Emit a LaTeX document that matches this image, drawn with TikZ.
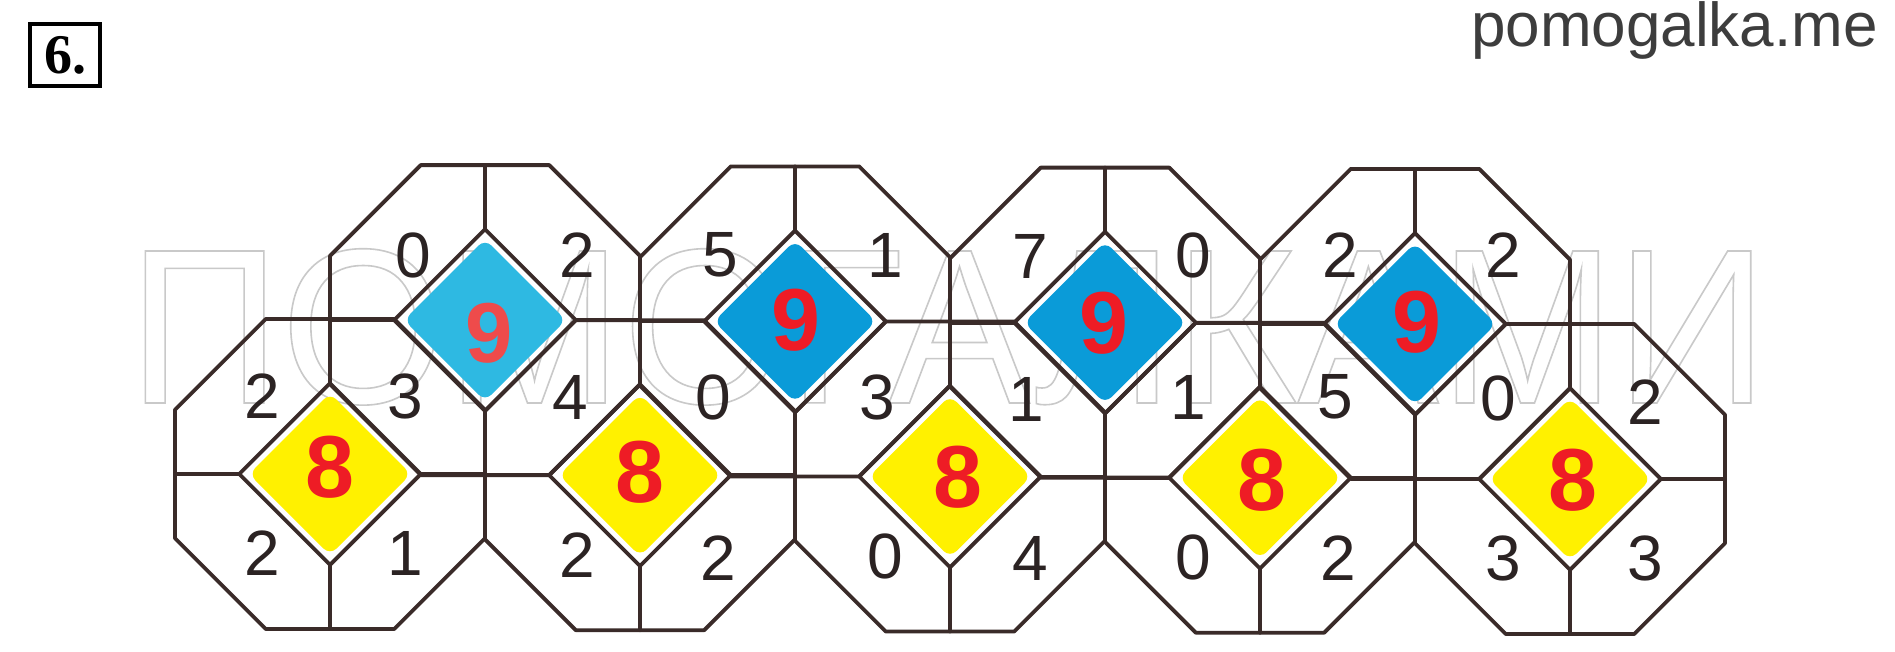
\documentclass[tikz,border=0pt]{standalone}
\usepackage{fontspec}
\setmainfont{Liberation Sans}
\newfontfamily\wmfont[FakeStretch=0.96]{Liberation Sans}
\newfontfamily\hdfont{Liberation Serif}
\definecolor{lncol}{HTML}{3A2B29}
\definecolor{digcol}{HTML}{2B2323}
\definecolor{redcol}{HTML}{EE1C25}
\definecolor{salmoncol}{HTML}{EE4B4B}
\definecolor{bluecol}{HTML}{0A9BD8}
\definecolor{cyancol}{HTML}{2EB9E2}
\definecolor{yelcol}{HTML}{FFF100}
\definecolor{sitegray}{HTML}{3D3D3D}
\definecolor{wmgray}{HTML}{C9C9C9}
\def\octR{155}
\def\octA{64.2}
\def\diaD{90.8}
\def\fillD{81}
\tikzset{
  grid line/.style={draw=lncol, line width=3.8pt, line join=round, line cap=round},
  small digit/.style={inner sep=0pt, text=digcol, font=\fontsize{64}{66}\selectfont},
  big digit/.style={inner sep=0pt, text=redcol, font=\fontsize{88}{90}\selectfont\bfseries},
  octcell/.pic={
    \path[grid line] (-\octA,-\octR) -- (\octA,-\octR) -- (\octR,-\octA) -- (\octR,\octA)
      -- (\octA,\octR) -- (-\octA,\octR) -- (-\octR,\octA) -- (-\octR,-\octA) -- cycle;
    \path[grid line] (0,-\octR) -- (0,-\diaD) (0,\diaD) -- (0,\octR)
      (-\octR,0) -- (-\diaD,0) (\diaD,0) -- (\octR,0);
    \path[grid line] (0,-\diaD) -- (\diaD,0) -- (0,\diaD) -- (-\diaD,0) -- cycle;
  }
}
\begin{document}
\begin{tikzpicture}[x=1pt,y=-1pt]
\useasboundingbox (0,0) rectangle (1895,651);
\fill[white] (0,0) rectangle (1895,651);

% centres of the octagons
\foreach \i/\x/\y in {1/485/320.1,2/795/321.4,3/1105/322.6,4/1415/323.9}
  \coordinate (T\i) at (\x,\y);
\foreach \i/\x/\y in {1/330/474.0,2/640/475.2,3/950/476.5,4/1260/477.7,5/1570/479.0}
  \coordinate (B\i) at (\x,\y);

% watermark
\node[anchor=base, inner sep=0pt, text=wmgray] (wm) at (948,403)
  {\wmfont\fontsize{221}{221}\selectfont\special{pdf:literal direct 1 Tr 1.6 w}ПОМОГАЛКАМИ\special{pdf:literal direct 0 Tr}};

% diamond fills
\fill[cyancol, rounded corners=9pt, shift={(T1)}] (0,-\fillD) -- (\fillD,0) -- (0,\fillD) -- (-\fillD,0) -- cycle;
\foreach \i in {2,3,4}
  \fill[bluecol, rounded corners=9pt, shift={(T\i)}] (0,-\fillD) -- (\fillD,0) -- (0,\fillD) -- (-\fillD,0) -- cycle;
\foreach \i in {1,...,5}
  \fill[yelcol, rounded corners=9pt, shift={(B\i)}] (0,-\fillD) -- (\fillD,0) -- (0,\fillD) -- (-\fillD,0) -- cycle;

% octagons
\foreach \i in {1,...,4} \pic at (T\i) {octcell};
\foreach \i in {1,...,5} \pic at (B\i) {octcell};

% small digits
\foreach \x/\y/\t [count=\n] in {
  413/255/0, 577/255/2, 720/255/5, 885/255/1, 1030/256/7, 1193/255/0, 1340/255/2, 1503/255/2,
  262/396/2, 405/396/3, 570/397/4, 713/397/0, 877/397/3, 1026/399/1, 1188/397/1, 1335/397/5, 1498/398/0, 1645/402/2,
  262/553/2, 405/553/1, 577/555/2, 718/558/2, 885/556/0, 1030/558/4, 1193/557/0, 1338/558/2, 1503/558/3, 1645/558/3}
  \node[small digit] (s\n) at (\x,\y) {\t};

% big digits
\node[big digit, text=salmoncol, font=\fontsize{85}{88}\selectfont\bfseries] (n1) at (489,333) {9};
\foreach \x/\y [count=\n from 2] in {796/320, 1104/323, 1417/322}
  \node[big digit] (n\n) at (\x,\y) {9};
\foreach \x/\y [count=\n] in {330/467, 640/472, 958/477, 1262/480, 1573/480}
  \node[big digit] (e\n) at (\x,\y) {8};

% header
\node[draw=black, line width=4pt, minimum width=70pt, minimum height=62pt, inner sep=0pt,
      font=\hdfont\fontsize{56}{58}\selectfont\bfseries] (hdr) at (65,55) {6.};
\node[anchor=base east, inner sep=0pt, text=sitegray, font=\fontsize{62}{64}\selectfont] (site) at (1878,46) {pomogalka.me};
\end{tikzpicture}
\end{document}
